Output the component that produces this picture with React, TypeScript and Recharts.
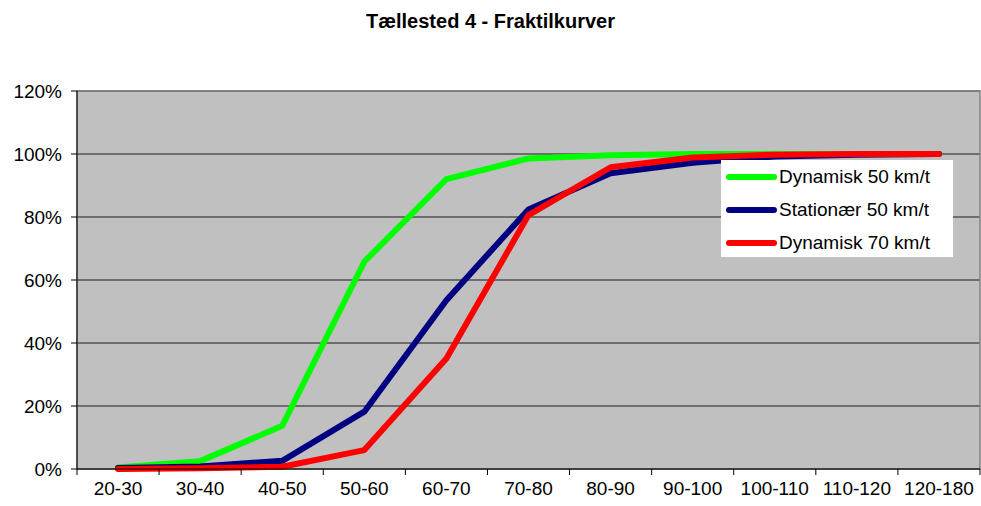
import { LineChart, Line, XAxis, YAxis, CartesianGrid, ReferenceArea } from "recharts";

const kategorier = ["20-30", "30-40", "40-50", "50-60", "60-70", "70-80", "80-90", "90-100", "100-110", "110-120", "120-180"];
const dynamisk50 = [0.5, 2.5, 13.7, 65.8, 92.0, 98.6, 99.6, 100, 100, 100, 100];
const stationaer50 = [0.3, 0.8, 2.6, 18.2, 53.6, 82.4, 93.9, 97.2, 99.2, 99.8, 100];
const dynamisk70 = [0.0, 0.2, 0.7, 6.0, 35.1, 80.6, 95.8, 98.9, 99.8, 100, 100];
const yTicks = [0, 20, 40, 60, 80, 100, 120];

const serier = [
  { key: "d50", navn: "Dynamisk 50 km/t", farve: "#00ff00" },
  { key: "s50", navn: "Stationær 50 km/t", farve: "#000080" },
  { key: "d70", navn: "Dynamisk 70 km/t", farve: "#ff0000" },
];

const data = kategorier.map((k, i) => ({
  x: i + 0.5,
  kat: k,
  d50: dynamisk50[i],
  s50: stationaer50[i],
  d70: dynamisk70[i],
}));

// tick lines sit on the category borders, labels in the middle
const graenser = kategorier.map((_, i) => i).concat(kategorier.length);
const midter = kategorier.map((_, i) => i + 0.5);

const font = "'Liberation Sans', Arial, sans-serif";

function Forklaring() {
  return (
    <div
      style={{
        position: "absolute",
        left: 721,
        top: 160,
        width: 232,
        height: 97,
        background: "#fff",
      }}
    >
      {serier.map((s, i) => (
        <div key={s.key} style={{ display: "flex", alignItems: "center", position: "absolute", left: 5, top: 1 + i * 32.8, height: 32 }}>
          <div style={{ width: 51, height: 6, borderRadius: 3, background: s.farve, marginRight: 2 }} />
          <span style={{ fontSize: 19, color: "#000", fontFamily: font, whiteSpace: "nowrap" }}>{s.navn}</span>
        </div>
      ))}
    </div>
  );
}

export default function App() {
  return (
    <div style={{ position: "absolute", left: 0, top: 0, width: 981, height: 506, background: "#fff", fontFamily: font }}>
      <div style={{ position: "absolute", top: 10, left: 0, width: 981, textAlign: "center", fontWeight: "bold", fontSize: 20 }}>
        Tællested 4 - Fraktilkurver
      </div>
      <LineChart width={981} height={506} data={data} margin={{ top: 91, right: 1, bottom: 0, left: 0 }}>
        <CartesianGrid vertical={false} stroke="#1a1a1a" fill="#c0c0c0" />
        <ReferenceArea y1={0} y2={120} fill="none" stroke="#808080" strokeWidth={1.5} />
        <YAxis
          domain={[0, 120]}
          ticks={yTicks}
          tickFormatter={(v: number) => `${v}%`}
          width={77}
          tickSize={6}
          tickMargin={9}
          stroke="#000"
          tick={{ fill: "#000", fontSize: 19 }}
          interval={0}
        />
        <XAxis
          xAxisId={0}
          dataKey="x"
          type="number"
          domain={[0, kategorier.length]}
          ticks={graenser}
          tickFormatter={() => ""}
          tickSize={6}
          height={7}
          stroke="#000"
          interval={0}
        />
        <XAxis
          xAxisId="lab"
          dataKey="x"
          type="number"
          domain={[0, kategorier.length]}
          ticks={midter}
          tickFormatter={(v: number) => kategorier[Math.floor(v)]}
          axisLine={false}
          tickLine={false}
          tickSize={0}
          tick={{ fill: "#000", fontSize: 19 }}
          tickMargin={6}
          height={30}
          interval={0}
        />
        {serier.map((s) => (
          <Line
            key={s.key}
            xAxisId={0}
            type="linear"
            dataKey={s.key}
            name={s.navn}
            stroke={s.farve}
            strokeWidth={6}
            strokeLinecap="round"
            strokeLinejoin="round"
            dot={false}
            activeDot={false}
            isAnimationActive={false}
          />
        ))}
      </LineChart>
      <Forklaring />
    </div>
  );
}
